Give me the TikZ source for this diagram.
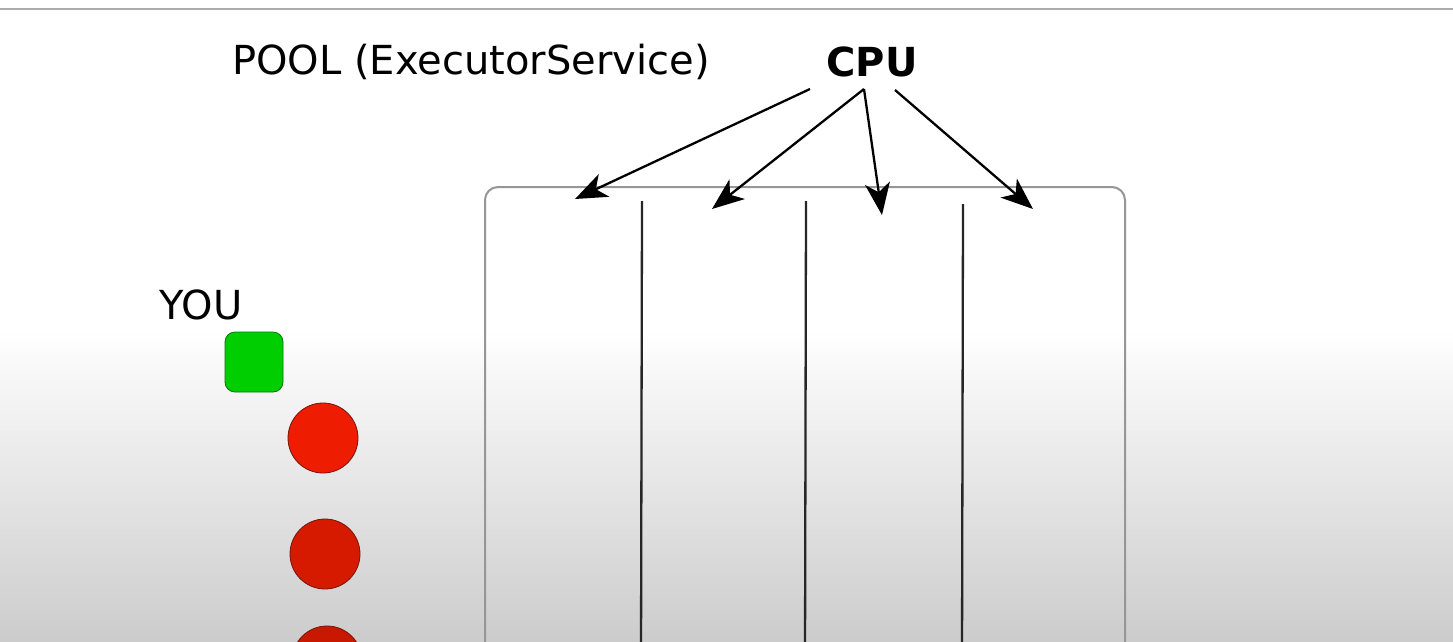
\documentclass[tikz,border=0pt]{standalone}
\usepackage{fontspec}
\setmainfont{DejaVu Sans}
\usetikzlibrary{arrows.meta}
\definecolor{bgray}{RGB}{204,204,204}
\definecolor{frame}{RGB}{150,150,150}
\definecolor{topline}{RGB}{172,172,172}
\definecolor{youfill}{RGB}{0,206,0}
\definecolor{youdraw}{RGB}{0,120,0}
\definecolor{redA}{RGB}{238,28,0}
\definecolor{redB}{RGB}{214,26,0}
\definecolor{redC}{RGB}{200,24,0}
\definecolor{redline}{RGB}{120,20,10}
\tikzset{
  label text/.style={inner sep=0pt, anchor=center, font=\fontsize{40}{48}\selectfont},
  cpuarrow/.style={line width=2.3pt, -{Stealth[length=32pt,width=25pt,inset=9pt]}},
  lane/.style={line width=2.3pt, black!85},
  task/.style={circle, minimum size=70pt, inner sep=0pt, draw=redline, line width=0.8pt},
}
\begin{document}
\begin{tikzpicture}[x=1pt,y=-1pt]
  % canvas
  \useasboundingbox (0,0) rectangle (1453,641);
  \fill[white] (0,0) rectangle (1453,641);
  \shade[top color=white, bottom color=bgray] (0,330) rectangle (1453,641);
  \draw[topline, line width=2.5pt] (0,9) -- (1453,9);

  % titles
  \node[label text] (pool) at (471,62) {POOL (ExecutorService)};
  \node[label text, font=\fontsize{40}{48}\selectfont\bfseries] (cpu) at (872,62) {CPU};
  \node[label text] (you) at (201,305) {YOU};

  % pool frame
  \draw[frame, line width=2pt, rounded corners=13pt] (485,660) -- (485,187) -- (1125,187) -- (1125,660);

  % lanes
  \coordinate (l1) at (642,201); \coordinate (l1b) at (641,660);
  \coordinate (l2) at (806,201); \coordinate (l2b) at (805,660);
  \coordinate (l3) at (963,204); \coordinate (l3b) at (962,660);
  \draw[lane] (l1) -- (l1b);
  \draw[lane] (l2) -- (l2b);
  \draw[lane] (l3) -- (l3b);

  % CPU arrows
  \coordinate (s1) at (810,89);
  \coordinate (s2) at (864,89);
  \coordinate (s3) at (895,90);
  \coordinate (t1) at (575,199);
  \coordinate (t2) at (712,209);
  \coordinate (t3) at (882,215);
  \coordinate (t4) at (1033,209);
  \draw[cpuarrow] (s1) -- (t1);
  \draw[cpuarrow] (s2) -- (t2);
  \draw[cpuarrow] (s2) -- (t3);
  \draw[cpuarrow] (s3) -- (t4);

  % you and tasks
  \node[draw=youdraw, fill=youfill, line width=0.8pt, rounded corners=10pt,
        minimum width=58pt, minimum height=60pt, inner sep=0pt] (me) at (254,362) {};
  \node[task, fill=redA] (r1) at (323,438) {};
  \node[task, fill=redB] (r2) at (325,554) {};
  \node[task, fill=redC] (r3) at (327,661) {};
\end{tikzpicture}
\end{document}
